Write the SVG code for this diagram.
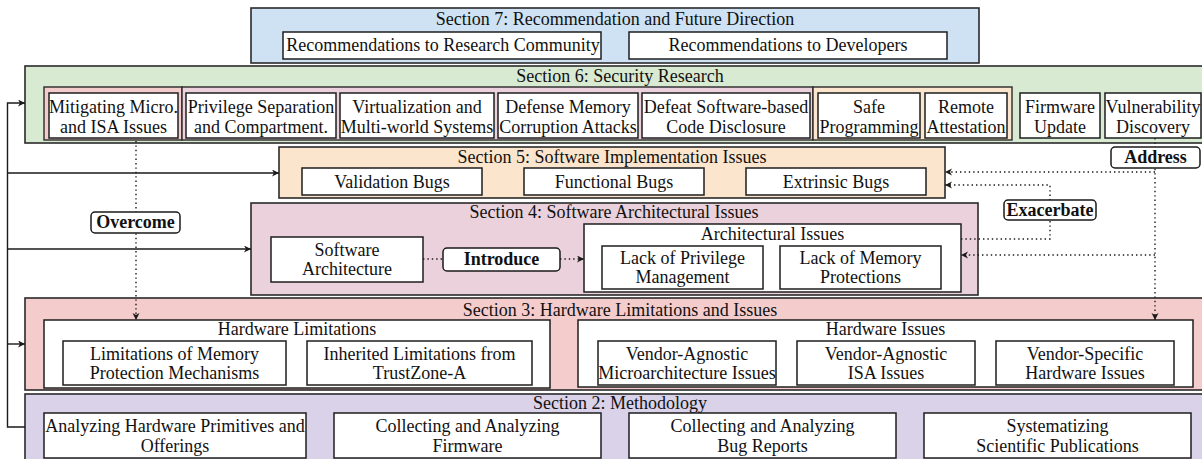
<svg xmlns="http://www.w3.org/2000/svg" width="1202" height="459" viewBox="0 0 1202 459">
<defs>
<style>
.sec{stroke:#2a2a2a;stroke-width:1.6}
.box{fill:#fff;stroke:#1e1e1e;stroke-width:1.5}
.grp{stroke:#2a2a2a;stroke-width:1.4}
.t{font-family:"Liberation Serif","Times New Roman",serif;font-size:18px;fill:#111;text-anchor:middle}
.b{font-weight:bold}
.ln{fill:none;stroke:#1a1a1a;stroke-width:1.4}
.dot{fill:none;stroke:#1a1a1a;stroke-width:1.4;stroke-dasharray:1.4 3}
.lbl{fill:#fff;stroke:#1a1a1a;stroke-width:1.5}
</style>
<marker id="ah" markerUnits="userSpaceOnUse" markerWidth="8" markerHeight="8" refX="7" refY="3.5" orient="auto">
<path d="M0,0 L7,3.5 L0,7 L2,3.5 z" fill="#1a1a1a"/>
</marker>
</defs>
<rect width="1202" height="459" fill="#fff"/>

<g id="section7">
<rect class="sec" x="251" y="8" width="728" height="55" fill="#cfe2f3"/>
<text class="t" x="615" y="25">Section 7: Recommendation and Future Direction</text>
</g>
<g id="rec-research"><rect class="box" x="283" y="32" width="318" height="27"/><text class="t" x="443" y="51">Recommendations to Research Community</text></g>
<g id="rec-developers"><rect class="box" x="629" y="32" width="318" height="27"/><text class="t" x="788" y="51">Recommendations to Developers</text></g>

<g id="section6">
<rect class="sec" x="25" y="66" width="1190" height="77" fill="#d9ead3"/>
<text class="t" x="620" y="82">Section 6: Security Research</text>
<rect class="grp" x="44" y="87" width="138" height="53" fill="#f4cccc"/>
<rect class="grp" x="182" y="87" width="631" height="53" fill="#ead1dc"/>
<rect class="grp" x="813" y="87" width="199" height="53" fill="#fce5cd"/>
</g>
<g id="mitigating"><rect class="box" x="49" y="93" width="129" height="45"/><text class="t" x="113.5" y="113">Mitigating Micro.</text><text class="t" x="113.5" y="132.5">and ISA Issues</text></g>
<g id="privilege"><rect class="box" x="186" y="93" width="150" height="45"/><text class="t" x="261" y="113">Privilege Separation</text><text class="t" x="261" y="132.5">and Compartment.</text></g>
<g id="virtualization"><rect class="box" x="340" y="93" width="154" height="45"/><text class="t" x="417" y="113">Virtualization and</text><text class="t" x="417" y="132.5">Multi-world Systems</text></g>
<g id="defense"><rect class="box" x="498" y="93" width="140" height="45"/><text class="t" x="568" y="113">Defense Memory</text><text class="t" x="568" y="132.5">Corruption Attacks</text></g>
<g id="defeat"><rect class="box" x="642" y="93" width="168" height="45"/><text class="t" x="726" y="113">Defeat Software-based</text><text class="t" x="726" y="132.5">Code Disclosure</text></g>
<g id="safe"><rect class="box" x="818" y="93" width="102" height="45"/><text class="t" x="869" y="113">Safe</text><text class="t" x="869" y="132.5">Programming</text></g>
<g id="remote"><rect class="box" x="925" y="93" width="82" height="45"/><text class="t" x="966" y="113">Remote</text><text class="t" x="966" y="132.5">Attestation</text></g>
<g id="firmware-update"><rect class="box" x="1020" y="93" width="80" height="45"/><text class="t" x="1060" y="113">Firmware</text><text class="t" x="1060" y="132.5">Update</text></g>
<g id="vuln"><rect class="box" x="1105" y="93" width="96" height="45"/><text class="t" x="1153" y="113">Vulnerability</text><text class="t" x="1153" y="132.5">Discovery</text></g>

<g id="section5">
<rect class="sec" x="279" y="147" width="666" height="51" fill="#fce5cd"/>
<text class="t" x="612" y="163">Section 5: Software Implementation Issues</text>
</g>
<g id="validation"><rect class="box" x="302" y="168" width="180" height="27"/><text class="t" x="392" y="188">Validation Bugs</text></g>
<g id="functional"><rect class="box" x="524" y="168" width="180" height="27"/><text class="t" x="614" y="188">Functional Bugs</text></g>
<g id="extrinsic"><rect class="box" x="746" y="168" width="180" height="27"/><text class="t" x="836" y="188">Extrinsic Bugs</text></g>

<g id="section4">
<rect class="sec" x="251" y="203" width="727" height="92" fill="#ead1dc"/>
<text class="t" x="614" y="218">Section 4: Software Architectural Issues</text>
</g>
<g id="soft-arch"><rect class="box" x="271" y="237" width="152" height="45"/><text class="t" x="347" y="256">Software</text><text class="t" x="347" y="275">Architecture</text></g>
<g id="arch-issues"><rect class="box" x="584" y="224" width="377" height="68"/><text class="t" x="772.5" y="240">Architectural Issues</text></g>
<g id="lack-priv"><rect class="box" x="602" y="246" width="161" height="43"/><text class="t" x="682.5" y="264">Lack of Privilege</text><text class="t" x="682.5" y="283">Management</text></g>
<g id="lack-mem"><rect class="box" x="780" y="246" width="161" height="43"/><text class="t" x="860.5" y="264">Lack of Memory</text><text class="t" x="860.5" y="283">Protections</text></g>

<g id="section3">
<rect class="sec" x="25" y="298" width="1190" height="92" fill="#f4cccc"/>
<text class="t" x="620" y="316">Section 3: Hardware Limitations and Issues</text>
</g>
<g id="hw-limits"><rect class="box" x="44" y="320" width="506" height="68"/><text class="t" x="297" y="335">Hardware Limitations</text></g>
<g id="lim-mem"><rect class="box" x="63" y="341" width="223" height="44"/><text class="t" x="174.5" y="360">Limitations of Memory</text><text class="t" x="174.5" y="379">Protection Mechanisms</text></g>
<g id="inherited"><rect class="box" x="307" y="341" width="225" height="44"/><text class="t" x="419.5" y="360">Inherited Limitations from</text><text class="t" x="419.5" y="379">TrustZone-A</text></g>
<g id="hw-issues"><rect class="box" x="578" y="320" width="615" height="67"/><text class="t" x="885.5" y="335">Hardware Issues</text></g>
<g id="va-micro"><rect class="box" x="598" y="341" width="178" height="44"/><text class="t" x="687" y="360">Vendor-Agnostic</text><text class="t" x="687" y="379">Microarchitecture Issues</text></g>
<g id="va-isa"><rect class="box" x="797" y="341" width="178" height="44"/><text class="t" x="886" y="360">Vendor-Agnostic</text><text class="t" x="886" y="379">ISA Issues</text></g>
<g id="vs-hw"><rect class="box" x="996" y="341" width="178" height="44"/><text class="t" x="1085" y="360">Vendor-Specific</text><text class="t" x="1085" y="379">Hardware Issues</text></g>

<g id="section2">
<rect class="sec" x="25" y="394" width="1190" height="80" fill="#d9d2e9"/>
<text class="t" x="620" y="409">Section 2: Methodology</text>
</g>
<g id="analyzing-hw"><rect class="box" x="44" y="413" width="262" height="45"/><text class="t" x="175" y="432">Analyzing Hardware Primitives and</text><text class="t" x="175" y="452">Offerings</text></g>
<g id="collecting-fw"><rect class="box" x="334" y="413" width="267" height="45"/><text class="t" x="467.5" y="432">Collecting and Analyzing</text><text class="t" x="467.5" y="452">Firmware</text></g>
<g id="collecting-bugs"><rect class="box" x="629" y="413" width="267" height="45"/><text class="t" x="762.5" y="432">Collecting and Analyzing</text><text class="t" x="762.5" y="452">Bug Reports</text></g>
<g id="systematizing"><rect class="box" x="924" y="413" width="267" height="45"/><text class="t" x="1057.5" y="432">Systematizing</text><text class="t" x="1057.5" y="452">Scientific Publications</text></g>

<g id="connectors">
<path class="ln" d="M25,427 H7.5 V103 H25" marker-end="url(#ah)"/>
<path class="ln" d="M7.5,173 H279" marker-end="url(#ah)"/>
<path class="ln" d="M7.5,249 H251" marker-end="url(#ah)"/>
<path class="ln" d="M7.5,344 H25" marker-end="url(#ah)"/>
<path class="dot" d="M136,141 V320" marker-end="url(#ah)"/>
<path class="dot" d="M423,259 H443"/>
<path class="dot" d="M560,259 H584" marker-end="url(#ah)"/>
<path class="dot" d="M1155,138 V320" marker-end="url(#ah)"/>
<path class="dot" d="M1155,172 H945" marker-end="url(#ah)"/>
<path class="dot" d="M1155,255 H961" marker-end="url(#ah)"/>
<path class="dot" d="M961,239 H1050 V185 H945" marker-end="url(#ah)"/>
</g>

<g id="label-overcome"><rect class="lbl" x="91" y="212" width="89" height="21" rx="4"/><text class="t b" x="135.5" y="228">Overcome</text></g>
<g id="label-introduce"><rect class="lbl" x="443" y="248" width="117" height="23" rx="4"/><text class="t b" x="501.5" y="265">Introduce</text></g>
<g id="label-address"><rect class="lbl" x="1111" y="147" width="89" height="21" rx="4"/><text class="t b" x="1155.5" y="163">Address</text></g>
<g id="label-exacerbate"><rect class="lbl" x="1004" y="200" width="92" height="20" rx="4"/><text class="t b" x="1050" y="216">Exacerbate</text></g>
</svg>
